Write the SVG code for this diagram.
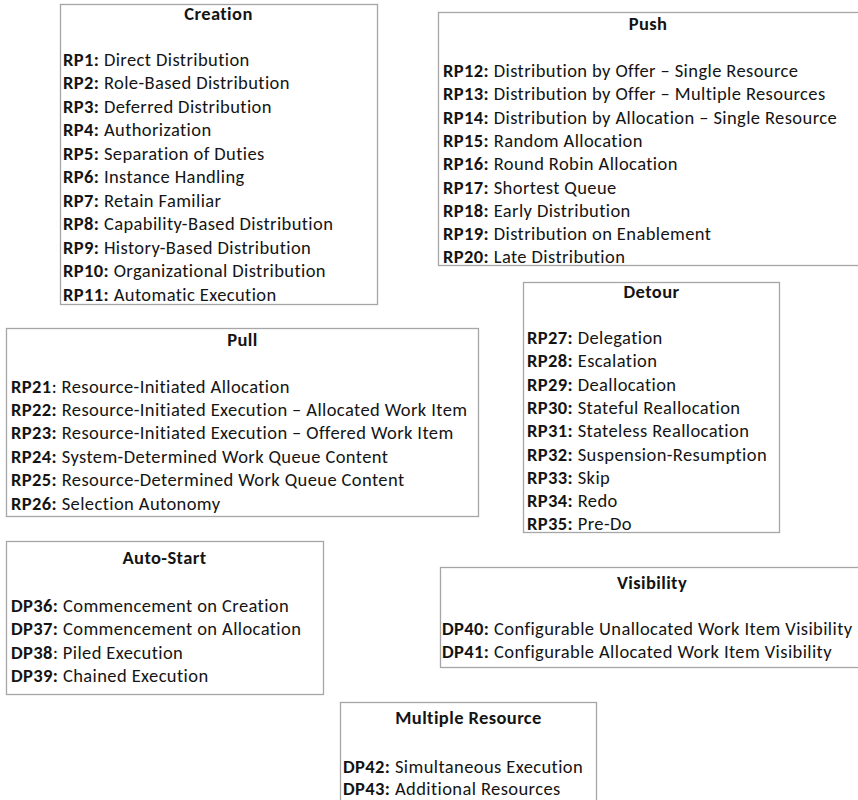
<svg xmlns="http://www.w3.org/2000/svg" width="858" height="800" viewBox="0 0 858 800">
  <style>
    .box { fill: #ffffff; stroke: #a6a6a6; stroke-width: 1.3; }
    text { font-family: Carlito, Lato, "Liberation Sans", sans-serif; font-size: 18.5px; letter-spacing: 0.4px; fill: #141414; }
    .title { font-weight: bold; text-anchor: middle; }
    .id { font-weight: bold; }
  </style>
  <rect width="858" height="800" fill="#ffffff"/>

  <g id="creation">
    <rect class="box" x="60.5" y="4.5" width="317" height="300"/>
    <text class="title" x="218.5" y="20">Creation</text>
    <text x="63" y="65.5"><tspan class="id">RP1:</tspan> Direct Distribution</text>
    <text x="63" y="89"><tspan class="id">RP2:</tspan> Role-Based Distribution</text>
    <text x="63" y="112.5"><tspan class="id">RP3:</tspan> Deferred Distribution</text>
    <text x="63" y="136"><tspan class="id">RP4:</tspan> Authorization</text>
    <text x="63" y="159.5"><tspan class="id">RP5:</tspan> Separation of Duties</text>
    <text x="63" y="183"><tspan class="id">RP6:</tspan> Instance Handling</text>
    <text x="63" y="206.5"><tspan class="id">RP7:</tspan> Retain Familiar</text>
    <text x="63" y="230"><tspan class="id">RP8:</tspan> Capability-Based Distribution</text>
    <text x="63" y="253.5"><tspan class="id">RP9:</tspan> History-Based Distribution</text>
    <text x="63" y="277"><tspan class="id">RP10:</tspan> Organizational Distribution</text>
    <text x="63" y="300.5"><tspan class="id">RP11:</tspan> Automatic Execution</text>
  </g>

  <g id="push">
    <rect class="box" x="438.5" y="12.5" width="422" height="253"/>
    <text class="title" x="648" y="29.5">Push</text>
    <text x="443" y="77"><tspan class="id">RP12:</tspan> Distribution by Offer – Single Resource</text>
    <text x="443" y="100.3"><tspan class="id">RP13:</tspan> Distribution by Offer – Multiple Resources</text>
    <text x="443" y="123.6"><tspan class="id">RP14:</tspan> Distribution by Allocation – Single Resource</text>
    <text x="443" y="146.9"><tspan class="id">RP15:</tspan> Random Allocation</text>
    <text x="443" y="170.2"><tspan class="id">RP16:</tspan> Round Robin Allocation</text>
    <text x="443" y="193.5"><tspan class="id">RP17:</tspan> Shortest Queue</text>
    <text x="443" y="216.8"><tspan class="id">RP18:</tspan> Early Distribution</text>
    <text x="443" y="240.1"><tspan class="id">RP19:</tspan> Distribution on Enablement</text>
    <text x="443" y="263.4"><tspan class="id">RP20:</tspan> Late Distribution</text>
  </g>

  <g id="pull">
    <rect class="box" x="6.5" y="328.5" width="472" height="188"/>
    <text class="title" x="242.5" y="346">Pull</text>
    <text x="11" y="392.5"><tspan class="id">RP21</tspan>: Resource-Initiated Allocation</text>
    <text x="11" y="415.9"><tspan class="id">RP22:</tspan> Resource-Initiated Execution – Allocated Work Item</text>
    <text x="11" y="439.3"><tspan class="id">RP23:</tspan> Resource-Initiated Execution – Offered Work Item</text>
    <text x="11" y="462.7"><tspan class="id">RP24:</tspan> System-Determined Work Queue Content</text>
    <text x="11" y="486.1"><tspan class="id">RP25:</tspan> Resource-Determined Work Queue Content</text>
    <text x="11" y="509.5"><tspan class="id">RP26:</tspan> Selection Autonomy</text>
  </g>

  <g id="detour">
    <rect class="box" x="523.5" y="282.5" width="256" height="250"/>
    <text class="title" x="651.5" y="298">Detour</text>
    <text x="527" y="344"><tspan class="id">RP27:</tspan> Delegation</text>
    <text x="527" y="367.3"><tspan class="id">RP28:</tspan> Escalation</text>
    <text x="527" y="390.6"><tspan class="id">RP29:</tspan> Deallocation</text>
    <text x="527" y="413.9"><tspan class="id">RP30:</tspan> Stateful Reallocation</text>
    <text x="527" y="437.2"><tspan class="id">RP31:</tspan> Stateless Reallocation</text>
    <text x="527" y="460.5"><tspan class="id">RP32:</tspan> Suspension-Resumption</text>
    <text x="527" y="483.8"><tspan class="id">RP33:</tspan> Skip</text>
    <text x="527" y="507.1"><tspan class="id">RP34:</tspan> Redo</text>
    <text x="527" y="530.4"><tspan class="id">RP35:</tspan> Pre-Do</text>
  </g>

  <g id="auto-start">
    <rect class="box" x="6.5" y="541.5" width="317" height="153"/>
    <text class="title" x="164.5" y="563.5">Auto-Start</text>
    <text x="11" y="612"><tspan class="id">DP36:</tspan> Commencement on Creation</text>
    <text x="11" y="635.3"><tspan class="id">DP37:</tspan> Commencement on Allocation</text>
    <text x="11" y="658.6"><tspan class="id">DP38</tspan>: Piled Execution</text>
    <text x="11" y="681.9"><tspan class="id">DP39:</tspan> Chained Execution</text>
  </g>

  <g id="visibility">
    <rect class="box" x="440.5" y="567.5" width="424" height="100"/>
    <text class="title" x="652" y="589">Visibility</text>
    <text x="442" y="635"><tspan class="id">DP40:</tspan> Configurable Unallocated Work Item Visibility</text>
    <text x="442" y="658"><tspan class="id">DP41:</tspan> Configurable Allocated Work Item Visibility</text>
  </g>

  <g id="multiple-resource">
    <rect class="box" x="340.5" y="702.5" width="256" height="110"/>
    <text class="title" x="468.5" y="724">Multiple Resource</text>
    <text x="343" y="772.5"><tspan class="id">DP42:</tspan> Simultaneous Execution</text>
    <text x="343" y="795"><tspan class="id">DP43:</tspan> Additional Resources</text>
  </g>

  <g id="connectors"/>
</svg>
